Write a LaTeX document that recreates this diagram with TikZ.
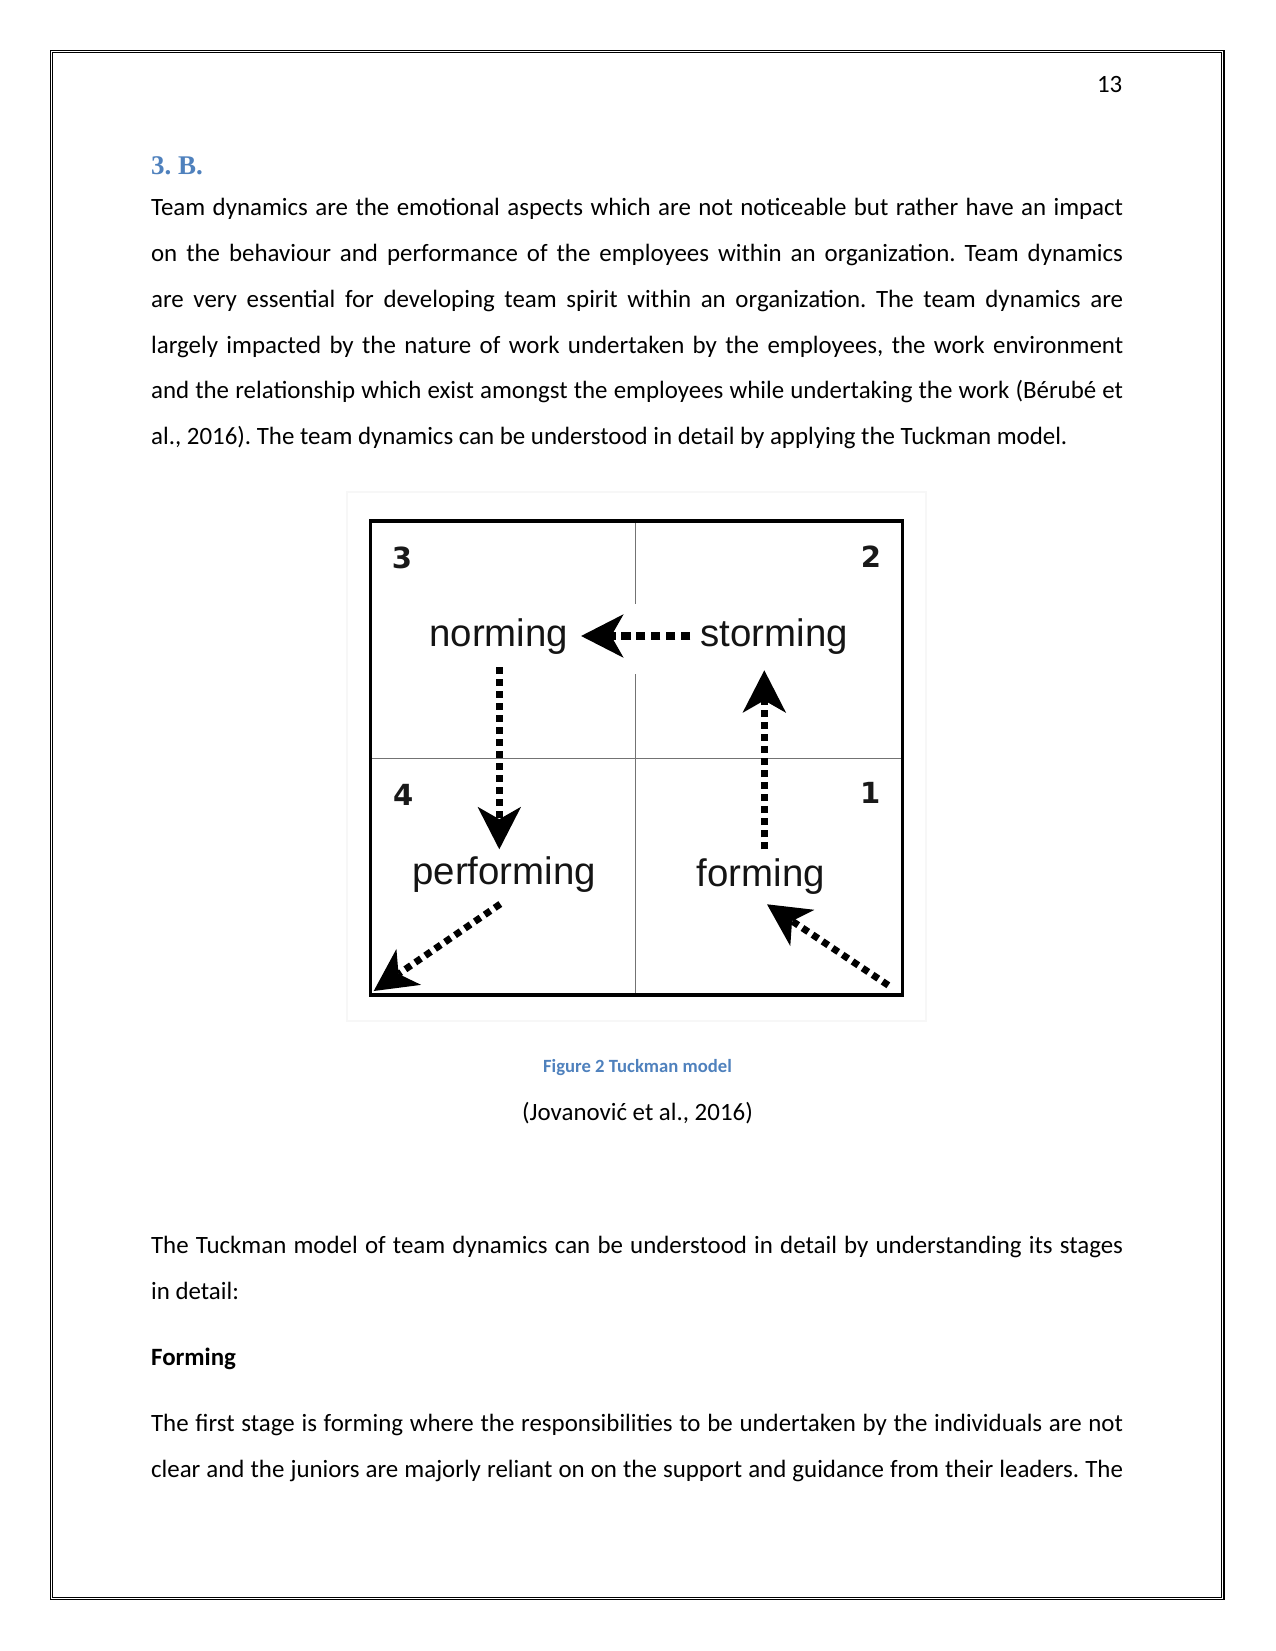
\documentclass[tikz,border=0pt]{standalone}
\usepackage{fontspec}
\setmainfont{Carlito}
\newfontfamily\figfont{Liberation Sans}
\newfontfamily\numfont{DejaVu Sans}
\newfontfamily\headfont{Liberation Serif}
\usetikzlibrary{arrows.meta,calc}
\definecolor{wordblue}{HTML}{4F81BD}
\hyphenpenalty=10000
\exhyphenpenalty=10000
\frenchspacing
\tikzset{
  body/.style={anchor=base west, inner sep=0pt, text width=468.3pt, align=justify,
    font=\fontsize{12}{22.02}\selectfont},
  plain/.style={inner sep=0pt, font=\fontsize{12}{14}\selectfont},
  stage/.style={anchor=base, inner sep=0pt, text=black!92, font=\figfont\fontsize{18.5}{20}\selectfont},
  quad/.style={anchor=base, inner sep=0pt, text=black!90, font=\numfont\bfseries\fontsize{14}{16}\selectfont},
  gridline/.style={line width=0.55pt, black!55},
  flow/.style={line width=3.3pt, dash pattern=on 3.3pt off 2.5pt,
    -{Stealth[length=20.5pt, width=21pt, inset=6pt, line width=0pt]}},
  wideflow/.style={flow, line width=3.4pt, dash pattern=on 4.4pt off 2.8pt},
}
\begin{document}
\begin{tikzpicture}[x=0.4818pt,y=-0.4818pt]
\useasboundingbox (0,0) rectangle (1275,1651);
% page border (double line)
\draw[line width=0.6pt] (50.6,50.6) rectangle (1224,1599.4);
\draw[line width=0.6pt] (52.8,52.8) rectangle (1221.8,1597.2);
% page number
\node[plain, anchor=base east] (pagenum) at (1122.7,92.7) {13};
% heading
\node[anchor=base west, inner sep=0pt, text=wordblue, font=\headfont\fontsize{13}{15}\selectfont\bfseries] (head) at (150.7,174.3) {3. B.};
% first paragraph
\node[body] (para1) at (150.7,216) {Team dynamics are the emotional aspects which are not noticeable but rather have an impact\linebreak
on the behaviour and performance of the employees within an organization. Team dynamics\linebreak
are very essential for developing team spirit within an organization. The team dynamics are\linebreak
largely impacted by the nature of work undertaken by the employees, the work environment\linebreak
and the relationship which exist amongst the employees while undertaking the work (Bérubé et\linebreak
al., 2016). The team dynamics can be understood in detail by applying the Tuckman model.};
% ---- figure ----
\draw[black!3, line width=0.6pt] (347,492) rectangle (926,1021);
\coordinate (nw) at (370.5,521);
\coordinate (se) at (902.7,995);
\coordinate (sw) at (370.5,995);
\draw[gridline] (635.7,521) -- (635.7,604);
\draw[gridline] (635.7,674) -- (635.7,995);
\draw[gridline] (370.5,758.5) -- (902.7,758.5);
\draw[line width=1.5pt] (nw) rectangle (se);
\node[quad] (q3) at (402,568) {3};
\node[quad] (q2) at (871,567) {2};
\node[quad] (q4) at (403.3,805.3) {4};
\node[quad] (q1) at (870.3,803.7) {1};
\node[stage] (norming) at (498.7,646) {norming};
\node[stage] (storming) at (774.3,646) {storming};
\node[stage] (performing) at (504.2,884) {performing};
\node[stage] (forming) at (760.8,886) {forming};
\draw[wideflow] ($(storming.base west)+(-10,-10)$) -- ($(norming.base east)+(12.6,-10)$);
\draw[flow] ($(norming.base)+(0.6,21)$) -- ($(performing.base)+(-4.9,-34.7)$);
\draw[flow] ($(forming.base)+(3.5,-36.7)$) -- ($(storming.base)+(-10,24.3)$);
\draw[flow] ($(performing.base)+(-3.9,20)$) -- ($(sw)+(3.2,-4)$);
\draw[flow] ($(se)+(-14.4,-9.7)$) -- ($(forming.base)+(6.2,18.3)$);
% caption
\node[anchor=base, inner sep=0pt, text=wordblue, font=\fontsize{9}{11}\selectfont\bfseries] (caption) at (637.5,1072.3) {Figure 2 Tuckman model};
\node[plain, anchor=base] (cite) at (637.5,1120) {(Jovanović et al., 2016)};
% second paragraph
\node[body] (para2) at (150.7,1253.3) {The Tuckman model of team dynamics can be understood in detail by understanding its stages\linebreak
in detail:};
\node[plain, anchor=base west, font=\fontsize{12}{14}\selectfont\bfseries] (forminghead) at (150.7,1365) {Forming};
\node[body] (para3) at (150.7,1431.7) {The first stage is forming where the responsibilities to be undertaken by the individuals are not\linebreak
clear and the juniors are majorly reliant on on the support and guidance from their leaders. The\linebreak};
\end{tikzpicture}
\end{document}
